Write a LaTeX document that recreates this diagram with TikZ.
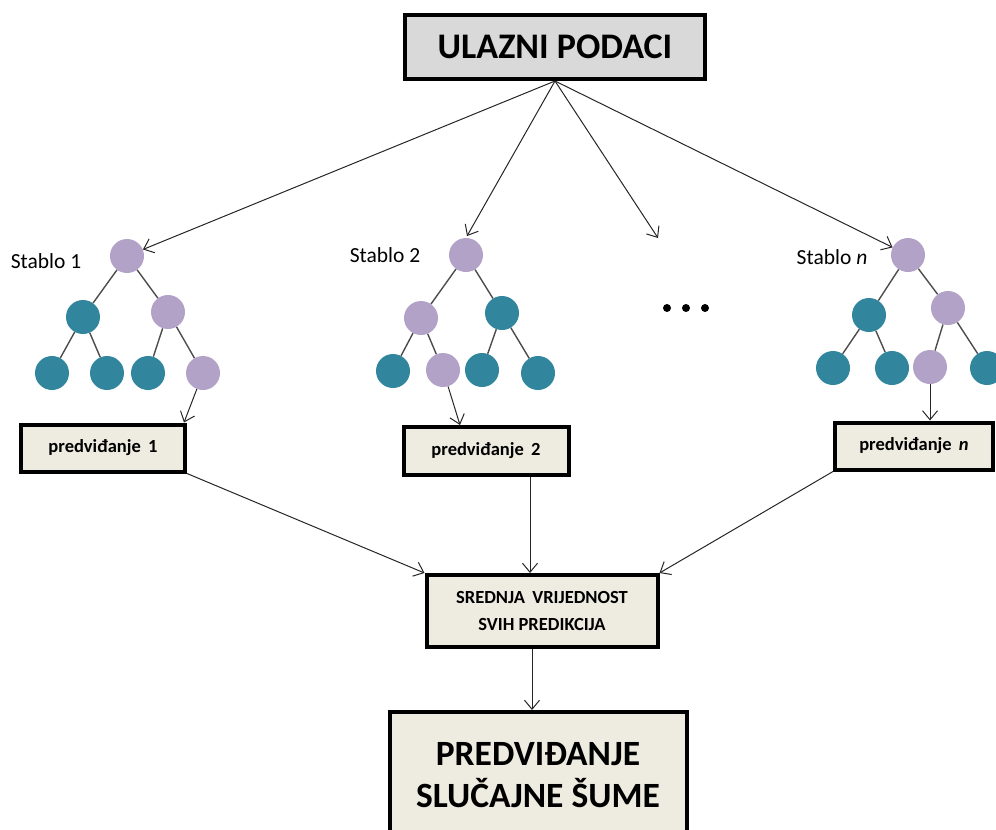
\documentclass[tikz,border=0pt]{standalone}
\usepackage{fontspec}
\setmainfont{Carlito}
\usetikzlibrary{arrows.meta}
\definecolor{leafteal}{HTML}{31859C}
\definecolor{leaflilac}{HTML}{B3A2C7}
\definecolor{boxgray}{HTML}{D9D9D9}
\definecolor{boxbeige}{HTML}{EEECE1}
\tikzset{
  tnode/.style={circle,minimum size=34pt,inner sep=0pt},
  tt/.style={tnode,fill=leafteal},
  tl/.style={tnode,fill=leaflilac},
  edge/.style={draw=black!70,line width=1.4pt},
  arr/.style={draw=black!85,line width=1pt,-{Straight Barb[length=9pt,width=15pt]}},
  box/.style={draw=black,line width=4pt,font=\bfseries,align=center,inner sep=0pt},
  predbox/.style={box,fill=boxbeige,font=\bfseries\fontsize{18.5}{22}\selectfont},
  treelabel/.style={font=\fontsize{21.5}{25}\selectfont},
}
\begin{document}
\begin{tikzpicture}[x=1pt,y=-1pt]
    \useasboundingbox (0,0) rectangle (996,830);
    %% input
    \node[box,fill=boxgray,minimum width=300pt,minimum height=64pt,
          font=\bfseries\fontsize{36}{42}\selectfont] (top) at (555,47) {ULAZNI PODACI};
    %% Tree 1
    \node[tl] (t1r) at (127,256) {};
    \node[tt] (t1a) at (83,317) {};
    \node[tl] (t1b) at (168,312) {};
    \node[tt] (t1aa) at (52,373) {};
    \node[tt] (t1ab) at (107,373) {};
    \node[tt] (t1ba) at (148,373) {};
    \node[tl] (t1bb) at (203,373) {};
    \node[treelabel] (s1) at (46,261) {Stablo 1};
    %% Tree 2
    \node[tl] (t2r) at (466,255) {};
    \node[tl] (t2a) at (421,318) {};
    \node[tt] (t2b) at (502,313) {};
    \node[tt] (t2aa) at (393,371) {};
    \node[tl] (t2ab) at (443,370) {};
    \node[tt] (t2ba) at (482,370) {};
    \node[tt] (t2bb) at (538,373) {};
    \node[treelabel] (s2) at (385,255) {Stablo 2};
    %% Tree n
    \node[tl] (tnr) at (908,255) {};
    \node[tt] (tna) at (869,315) {};
    \node[tl] (tnb) at (948,308) {};
    \node[tt] (tnaa) at (833,368) {};
    \node[tt] (tnab) at (892,368) {};
    \node[tl] (tnba) at (930,367) {};
    \node[tt] (tnbb) at (987,368) {};
    \node[treelabel] (sn) at (832,257) {Stablo \textit{n}};
    %% tree edges
    \foreach \t in {t1,t2,tn} {
        \draw[edge] (\t r) -- (\t a);
        \draw[edge] (\t r) -- (\t b);
        \draw[edge] (\t a) -- (\t aa);
        \draw[edge] (\t a) -- (\t ab);
        \draw[edge] (\t b) -- (\t ba);
        \draw[edge] (\t b) -- (\t bb);
    }
    %% dots
    \foreach \x in {667,686,705} \fill (\x,308) circle (4);
    \coordinate (dotsend) at (658,238);
    %% predictions
    \node[predbox,minimum width=164pt,minimum height=47pt] (p1) at (103,448) {predviđanje\, 1};
    \node[predbox,minimum width=165pt,minimum height=48pt] (p2) at (486,451) {predviđanje\, 2};
    \node[predbox,minimum width=158pt,minimum height=47pt] (pn) at (914,446) {predviđanje\, \textit{n}};
    %% mean
    \node[box,fill=boxbeige,minimum width=231pt,minimum height=72pt,
          font=\bfseries\fontsize{18.5}{27}\selectfont] (mid) at (542,611) {SREDNJA\, VRIJEDNOST\\SVIH PREDIKCIJA};
    %% result
    \node[box,fill=boxbeige,minimum width=297pt,minimum height=126pt,
          font=\bfseries\fontsize{35.5}{42}\selectfont] (res) at (538,775) {PREDVIĐANJE\\SLUČAJNE ŠUME};
    %% arrows
    \draw[arr] (top.south) -- (t1r);
    \draw[arr,shorten >=2pt] (top.south) -- (t2r.north);
    \draw[arr] (top.south) -- (dotsend);
    \draw[arr] (top.south) -- (tnr);
    \draw[arr] (t1bb) -- ([xshift=-3pt]p1.north east);
    \draw[arr] (t2ab) -- ([xshift=-26pt]p2.north);
    \draw[arr] (tnba) -- (tnba |- pn.north);
    \draw[arr] (p1.south east) -- (mid.north west);
    \draw[arr] ([xshift=44pt]p2.south) -- ([xshift=44pt]p2.south |- mid.north);
    \draw[arr] (pn.south west) -- (mid.north east);
    \draw[arr] ([xshift=-10pt]mid.south) -- ([xshift=-10pt]mid.south |- res.north);
\end{tikzpicture}
\end{document}
